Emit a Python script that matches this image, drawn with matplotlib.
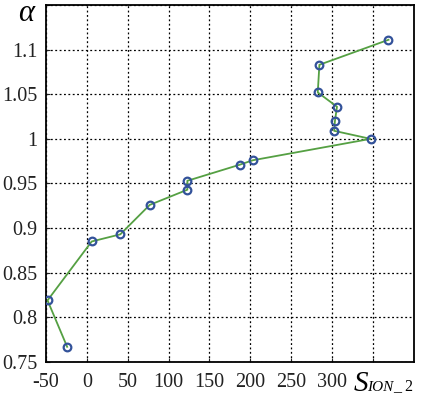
import matplotlib.pyplot as plt

plt.rcParams['font.family'] = 'Liberation Serif'

# S_ION_2 vs alpha (drawn in this order)
s_ion = [-24, -48, 6, 41, 77, 123, 123, 187, 203, 347, 302.5, 303.5, 306, 282.5, 284.5, 369]
alpha = [0.767, 0.819, 0.885, 0.893, 0.926, 0.943, 0.953, 0.971, 0.976, 1.0,
         1.009, 1.020, 1.036, 1.052, 1.083, 1.111]

xticks = [-50, 0, 50, 100, 150, 200, 250, 300, 350]
xticklabels = ['-50', '0', '50', '100', '150', '200', '250', '300', '']
yticks = [0.75, 0.8, 0.85, 0.9, 0.95, 1.0, 1.05, 1.1, 1.15]
yticklabels = ['0.75', '0.8', '0.85', '0.9', '0.95', '1', '1.05', '1.1', '']

fig = plt.figure(figsize=(4.21, 3.98), dpi=100)
ax = fig.add_axes([0.109, 0.0905, 0.874, 0.897])

ax.plot(s_ion, alpha, color='#55a043', lw=1.3, zorder=3)
ax.plot(s_ion, alpha, 'o', ms=5.5, mfc='none', mec='#33529a', mew=1.6, zorder=4)

ax.set_xlim(-50, 400)
ax.set_ylim(0.75, 1.15)
ax.set_xticks(xticks)
ax.set_xticklabels(xticklabels)
ax.set_yticks(yticks)
ax.set_yticklabels(yticklabels)
ax.tick_params(direction='in', length=3, labelsize=14.5, colors='#222222')
ax.tick_params(axis='x', pad=8)
ax.tick_params(axis='y', pad=6)
ax.grid(True, color='black', linestyle=(0, (1.5, 2)), lw=0.9)
for sp in ax.spines.values():
    sp.set_linewidth(1.3)

ax.text(-64, 1.1325, 'α', fontsize=22, fontstyle='italic', ha='right', va='baseline')

xt = ax.get_xaxis_transform()
ax.text(326, -0.08, 'S', fontsize=21, fontstyle='italic', ha='left', va='baseline', transform=xt)
ax.text(343, -0.08, 'ION', fontsize=11, fontstyle='italic', ha='left', va='baseline', transform=xt)
ax.text(375, -0.08, '_ 2', fontsize=11.5, ha='left', va='baseline', transform=xt)

plt.savefig('out.png', dpi=100)
